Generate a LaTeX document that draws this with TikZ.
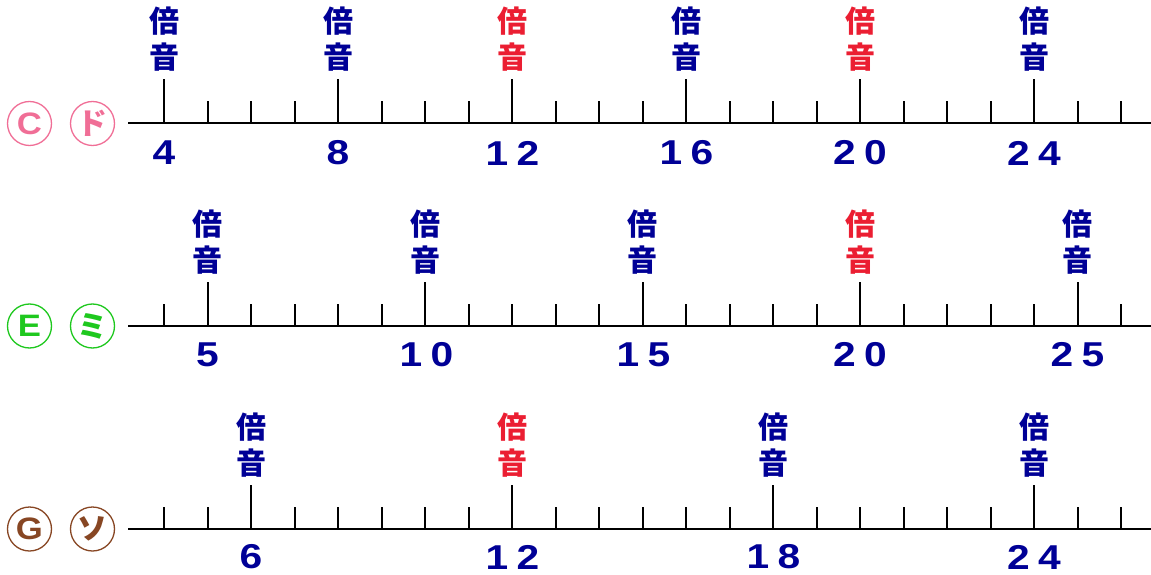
\documentclass[tikz,border=0pt]{standalone}
\usepackage{fontspec}
\setmainfont{Liberation Sans}
\newfontfamily\jp{Noto Sans CJK JP}
\definecolor{nblue}{RGB}{0,0,150}
\definecolor{nred}{RGB}{235,30,50}
\definecolor{cpink}{RGB}{240,110,150}
\definecolor{cgreen}{RGB}{30,200,30}
\definecolor{cbrown}{RGB}{135,70,35}
\tikzset{
  axisline/.style={line width=2pt,black},
  tickline/.style={line width=2pt,black},
  num/.style={font=\fontsize{34.5}{34.5}\selectfont\bfseries,text=nblue,inner sep=0pt,anchor=center},
  kanji/.style={font=\jp\bfseries\fontsize{30}{30}\selectfont,inner sep=0pt,anchor=center},
  badge/.style={circle,draw=#1,line width=1.3pt,minimum size=44pt,inner sep=0pt,text=#1},
  latin/.style={font=\fontsize{31}{31}\selectfont\bfseries},
  kana/.style={font=\jp\bfseries\fontsize{30}{30}\selectfont},
}
\newcommand{\widedig}[1]{\scalebox{1.18}[1]{#1}}
\newcommand{\twodig}[2]{\scalebox{1.18}[1]{#1\kern7pt#2}}
\begin{document}
\begin{tikzpicture}[x=1pt,y=-1pt]
\useasboundingbox (0,0) rectangle (1151,575);
% rows: axis y
\foreach \r/\ay in {1/123.5,2/326,3/529}{
  \coordinate (axl\r) at (128,\ay);
  \coordinate (axr\r) at (1151,\ay);
  \draw[axisline] (axl\r) -- (axr\r);
  \foreach \n in {4,...,26}{
    \coordinate (t\r-\n) at ({164+(\n-4)*43.5},\ay);
    \coordinate (s\r-\n) at ({164+(\n-4)*43.5},\ay-22);
    \draw[tickline] (t\r-\n) -- (s\r-\n);
  }
}
% long ticks and labels
\newcommand{\longmark}[4]{% row, n, color, axis y
  \coordinate (L#1-#2) at ({164+(#2-4)*43.5},#4-44);
  \draw[tickline] (t#1-#2) -- (L#1-#2);
  \node[kanji,text=#3] (b#1-#2) at ({164+(#2-4)*43.5},#4-102) {倍};
  \node[kanji,text=#3] (o#1-#2) at ({164+(#2-4)*43.5},#4-66) {音};
}
\longmark{1}{4}{nblue}{123.5}
\longmark{1}{8}{nblue}{123.5}
\longmark{1}{12}{nred}{123.5}
\longmark{1}{16}{nblue}{123.5}
\longmark{1}{20}{nred}{123.5}
\longmark{1}{24}{nblue}{123.5}
\longmark{2}{5}{nblue}{326}
\longmark{2}{10}{nblue}{326}
\longmark{2}{15}{nblue}{326}
\longmark{2}{20}{nred}{326}
\longmark{2}{25}{nblue}{326}
\longmark{3}{6}{nblue}{529}
\longmark{3}{12}{nred}{529}
\longmark{3}{18}{nblue}{529}
\longmark{3}{24}{nblue}{529}
% numbers
\node[num] (n1-4) at (164,153) {\widedig{4}};
\node[num] (n1-8) at (338,153) {\widedig{8}};
\node[num] (n1-12) at (512.5,153) {\twodig{1}{2}};
\node[num] (n1-16) at (686.5,153) {\twodig{1}{6}};
\node[num] (n1-20) at (860,153) {\twodig{2}{0}};
\node[num] (n1-24) at (1034,153) {\twodig{2}{4}};
\node[num] (n2-5) at (207.5,355) {\widedig{5}};
\node[num] (n2-10) at (426.5,355) {\twodig{1}{0}};
\node[num] (n2-15) at (643.5,355) {\twodig{1}{5}};
\node[num] (n2-20) at (860,355) {\twodig{2}{0}};
\node[num] (n2-25) at (1077.5,355) {\twodig{2}{5}};
\node[num] (n3-6) at (251,557) {\widedig{6}};
\node[num] (n3-12) at (512.5,557) {\twodig{1}{2}};
\node[num] (n3-18) at (773.5,557) {\twodig{1}{8}};
\node[num] (n3-24) at (1034,557) {\twodig{2}{4}};
% badges
\node[badge=cpink,latin] (c1) at (29.5,123.5) {\scalebox{1.12}[1]{C}};
\node[badge=cpink,kana] (c2) at (92.5,123.5) {ド};
\node[badge=cgreen,latin] (e1) at (29.5,326) {\scalebox{1.12}[1]{E}};
\node[badge=cgreen,kana] (e2) at (92.5,326) {ミ};
\node[badge=cbrown,latin] (g1) at (29.5,529) {\scalebox{1.12}[1]{G}};
\node[badge=cbrown,kana] (g2) at (92.5,529) {ソ};
\end{tikzpicture}
\end{document}
